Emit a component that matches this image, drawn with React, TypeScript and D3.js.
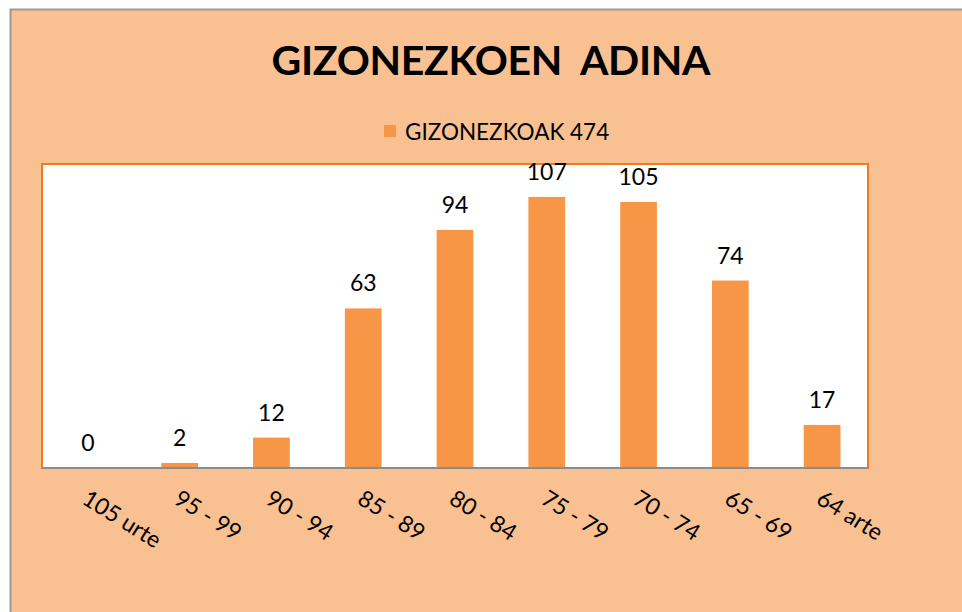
import React, { useEffect, useRef } from 'react';
import * as d3 from 'd3';

const categories = ['105 urte', '95 - 99', '90 - 94', '85 - 89', '80 - 84', '75 - 79', '70 - 74', '65 - 69', '64 arte'];
const values = [0, 2, 12, 63, 94, 107, 105, 74, 17];
const seriesName = 'GIZONEZKOAK 474';
const title = 'GIZONEZKOEN\u00a0\u00a0ADINA';

export default function App() {
  const ref = useRef<SVGSVGElement>(null);

  useEffect(() => {
    const svg = d3.select(ref.current);
    svg.selectAll('*').remove();

    const width = 962;
    const height = 612;
    const plot = { left: 42, top: 164, right: 868, bottom: 468 };
    const font = 'Lato, "Open Sans", sans-serif';

    // chart background
    svg.append('rect')
      .attr('x', 10.5).attr('y', 9.5)
      .attr('width', width).attr('height', height)
      .attr('fill', '#F9C192')
      .attr('stroke', '#9a9a9a')
      .attr('stroke-width', 2);

    // title
    svg.append('text')
      .attr('x', 491).attr('y', 75)
      .attr('text-anchor', 'middle')
      .attr('font-family', font)
      .attr('font-weight', 'bold')
      .attr('font-size', 41)
      .attr('textLength', 439)
      .attr('fill', '#000')
      .text(title);

    // legend
    svg.append('rect')
      .attr('x', 384).attr('y', 125)
      .attr('width', 12).attr('height', 12)
      .attr('fill', '#F79646');
    svg.append('text')
      .attr('x', 405).attr('y', 140)
      .attr('font-family', font)
      .attr('font-size', 22.5)
      .attr('fill', '#000')
      .text(seriesName);

    // plot area
    svg.append('rect')
      .attr('x', plot.left).attr('y', plot.top)
      .attr('width', plot.right - plot.left).attr('height', plot.bottom - plot.top)
      .attr('fill', '#fff')
      .attr('stroke', '#F07A1E')
      .attr('stroke-width', 2);

    const x = d3.scaleBand()
      .domain(categories)
      .range([plot.left, plot.right])
      .paddingInner(0.6)
      .paddingOuter(0.3);

    const y = d3.scaleLinear()
      .domain([0, 120])
      .range([plot.bottom, plot.top]);

    // bars
    svg.selectAll('rect.bar')
      .data(values)
      .enter()
      .append('rect')
      .attr('class', 'bar')
      .attr('x', (d, i) => x(categories[i])!)
      .attr('y', (d) => y(d))
      .attr('width', x.bandwidth())
      .attr('height', (d) => y(0) - y(d))
      .attr('fill', '#F79646');

    // value labels
    svg.selectAll('text.val')
      .data(values)
      .enter()
      .append('text')
      .attr('class', 'val')
      .attr('x', (d, i) => x(categories[i])! + x.bandwidth() / 2)
      .attr('y', (d) => y(d) - 17)
      .attr('text-anchor', 'middle')
      .attr('font-family', font)
      .attr('font-size', 23)
      .attr('fill', '#000')
      .text((d) => d);

    // x axis line
    svg.append('line')
      .attr('x1', plot.left).attr('x2', plot.right)
      .attr('y1', plot.bottom).attr('y2', plot.bottom)
      .attr('stroke', '#8c8c8c')
      .attr('stroke-width', 2);

    // category labels
    svg.selectAll('text.cat')
      .data(categories)
      .enter()
      .append('text')
      .attr('class', 'cat')
      .attr('transform', (d) => `translate(${x(d)! + x.bandwidth() / 2 + 2}, ${plot.bottom + 20}) rotate(32)`)
      .attr('dy', '0.75em')
      .attr('font-family', font)
      .attr('font-size', 23)
      .attr('fill', '#000')
      .text((d) => d);
  }, []);

  return <svg ref={ref} width={962} height={612} style={{ position: 'absolute', left: 0, top: 0 }} />;
}
